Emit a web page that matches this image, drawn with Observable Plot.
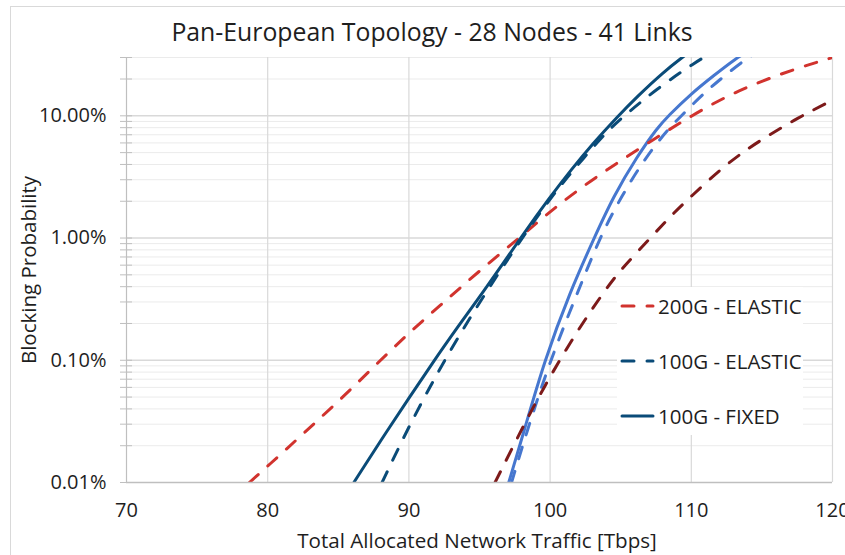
<!DOCTYPE html>
<html>
<head>
<meta charset="utf-8">
<script src="https://cdn.jsdelivr.net/npm/d3@7"></script>
<script src="https://cdn.jsdelivr.net/npm/@observablehq/plot@0.6"></script>
<style>
  html, body { margin: 0; padding: 0; background: #fff; }
  #wrap { position: relative; width: 845px; height: 555px; overflow: hidden; font-family: "Open Sans", sans-serif; color: #1e1e1e; }
  #frame { position: absolute; left: 10px; top: 6px; width: 850px; height: 560px; border: 1px solid #d9d9d9; box-sizing: border-box; }
  #chart { position: absolute; left: 0; top: 0; }
  #title { position: absolute; left: 432px; top: 14px; transform: translateX(-50%); font-size: 24.8px; white-space: nowrap; }
  #ylab { position: absolute; left: 28px; top: 270px; transform: translate(-50%, -50%) rotate(-90deg); font-size: 20.5px; line-height: 1; white-space: nowrap; }
  #xlab { position: absolute; left: 477px; top: 540px; transform: translate(-50%, -50%); font-size: 20.6px; line-height: 1; white-space: nowrap; }
  #legend { position: absolute; left: 617px; top: 287px; width: 186px; height: 148px; background: #fff; }
  .item { position: absolute; left: 0; height: 30px; display: flex; align-items: center; font-size: 20.5px; white-space: nowrap; }
  .item svg { margin-left: 2px; margin-right: 3px; }
</style>
</head>
<body>
<div id="wrap">
  <div id="frame"></div>
  <div id="chart"></div>
  <div id="title">Pan-European Topology - 28 Nodes - 41 Links</div>
  <div id="ylab">Blocking Probability</div>
  <div id="xlab">Total Allocated Network Traffic [Tbps]</div>
  <div id="legend"></div>
</div>
<script>
// ---- data (blocking probability in %) ----
const xTicks = [70, 80, 90, 100, 110, 120];
const yTicks = [0.01, 0.1, 1, 10];
const yTickLabels = ["0.01%", "0.10%", "1.00%", "10.00%"];

const legendNames = ["200G - ELASTIC", "100G - ELASTIC", "100G - FIXED"];

// 200G - ELASTIC (red dashed)
const e200X = [78.7, 80, 82.5, 85, 87.5, 90, 92.5, 95, 97.8, 100, 102.5, 105, 107.5, 110, 112.5, 115, 117.5, 120];
const e200Y = [0.01, 0.0136, 0.025, 0.046, 0.088, 0.168, 0.3, 0.54, 1.0, 1.65, 2.75, 4.3, 6.6, 10, 14.5, 19.3, 24.5, 30];

// 100G - ELASTIC (dark blue dashed)
const e100X = [88.1, 90, 92.5, 95, 98, 100, 101.5, 103.8, 105, 107.6, 110.4, 111.2];
const e100Y = [0.01, 0.029, 0.1, 0.30, 1.0, 2.1, 3.45, 7.0, 9.5, 16.8, 28, 31.5];

// 100G - FIXED (dark blue solid)
const f100X = [86.1, 88, 90, 91.8, 93.5, 95, 96.5, 97.9, 100, 101.5, 103, 104.75, 106.2, 108, 109.5, 110];
const f100Y = [0.01, 0.022, 0.049, 0.1, 0.19, 0.33, 0.58, 1.0, 2.17, 3.63, 5.88, 9.8, 14.5, 22.7, 31, 34];

// light blue solid (unlabelled)
const lsX = [97.07, 98.1, 99.6, 101.44, 103.12, 104.49, 106.16, 107.6, 108.37, 109.94, 111.57, 113.25, 113.9];
const lsY = [0.01, 0.025, 0.1, 0.37, 1.0, 2.2, 4.65, 8.0, 10, 15, 21.3, 30, 33];

// light blue dashed (unlabelled)
const ldX = [97.27, 98.3, 100, 102, 103.5, 105.05, 106.8, 108.45, 109.3, 110.8, 112.35, 114.0, 114.7];
const ldY = [0.01, 0.025, 0.1, 0.37, 1.0, 2.2, 4.65, 8.0, 10, 15, 21.3, 30, 33];

// dark red dashed (unlabelled)
const drX = [96.1, 98.4, 100, 102, 104, 105, 107.1, 108.5, 110, 112, 113.7, 115, 117.5, 120];
const drY = [0.01, 0.034, 0.074, 0.18, 0.39, 0.55, 1.0, 1.5, 2.2, 3.6, 5.1, 6.4, 9.6, 13.4];

// ---- styles ----
const cRed = "#d1332e", cDarkBlue = "#0a4b78", cLight = "#4677cf", cDarkRed = "#7d1a1a";
const dash = "12,13";

const rows = (xs, ys) => xs.map((x, i) => ({x, y: ys[i]}));

const yMinor = [];
for (const d of [0.01, 0.1, 1, 10]) for (let m = 2; m <= 9; m++) { const v = +(d * m).toPrecision(3); if (v <= 30) yMinor.push(v); }
const yAll = yTicks.concat(yMinor);

const series = [
  {data: rows(lsX, lsY), stroke: cLight, dash: null},
  {data: rows(ldX, ldY), stroke: cLight, dash: dash},
  {data: rows(drX, drY), stroke: cDarkRed, dash: dash},
  {data: rows(e200X, e200Y), stroke: cRed, dash: dash},
  {data: rows(e100X, e100Y), stroke: cDarkBlue, dash: dash},
  {data: rows(f100X, f100Y), stroke: cDarkBlue, dash: null}
];

const chart = Plot.plot({
  width: 845,
  height: 555,
  marginLeft: 126,
  marginRight: 13,
  marginTop: 57,
  marginBottom: 73,
  style: {fontFamily: "Open Sans", fontSize: "20px", color: "#1e1e1e", background: "transparent", overflow: "visible"},
  x: {domain: [70, 120], label: null},
  y: {type: "log", domain: [0.01, 30], label: null},
  marks: [
    Plot.ruleY(yMinor, {stroke: "#ebebeb", strokeWidth: 1}),
    Plot.ruleY(yTicks.slice(1), {stroke: "#d9d9d9", strokeWidth: 1.4}),
    Plot.ruleX(xTicks.slice(1), {stroke: "#d9d9d9", strokeWidth: 1.2}),
    Plot.ruleX([xTicks[0]], {stroke: "#bfbfbf", strokeWidth: 1.2}),
    Plot.axisY({ticks: yAll, tickSize: 6, text: null, stroke: "#bfbfbf"}),
    Plot.axisY({ticks: yAll, tickSize: 6, dx: 6, text: null, stroke: "#bfbfbf"}),
    Plot.axisY({ticks: yTicks, tickSize: 0, tickPadding: 20, tickFormat: (d) => yTickLabels[yTicks.indexOf(d)], fontSize: 20}),
    Plot.axisX({ticks: xTicks, tickSize: 0, tickPadding: 20, fontSize: 20, tickFormat: (d) => String(d)}),
    ...series.map(s => Plot.line(s.data, {
      x: "x", y: "y", stroke: s.stroke, strokeWidth: 3,
      strokeDasharray: s.dash, strokeLinecap: "round", curve: "basis", clip: true
    })),
    Plot.ruleY([yTicks[0]], {stroke: "#bfbfbf", strokeWidth: 1.6})
  ]
});
document.getElementById("chart").appendChild(chart);

// legend
const leg = document.getElementById("legend");
const legStyles = [
  {stroke: cRed, dash: dash},
  {stroke: cDarkBlue, dash: dash},
  {stroke: cDarkBlue, dash: null}
];
const legTops = [4, 59, 114];
legendNames.forEach((name, i) => {
  const div = document.createElement("div");
  div.className = "item";
  div.style.top = legTops[i] + "px";
  const st = legStyles[i];
  div.innerHTML = `<svg width="36" height="10"><line x1="3" y1="5" x2="34" y2="5" stroke="${st.stroke}" stroke-width="3" stroke-linecap="round" ${st.dash ? `stroke-dasharray="${st.dash}"` : ""}/></svg><span>${name}</span>`;
  leg.appendChild(div);
});
</script>
</body>
</html>
